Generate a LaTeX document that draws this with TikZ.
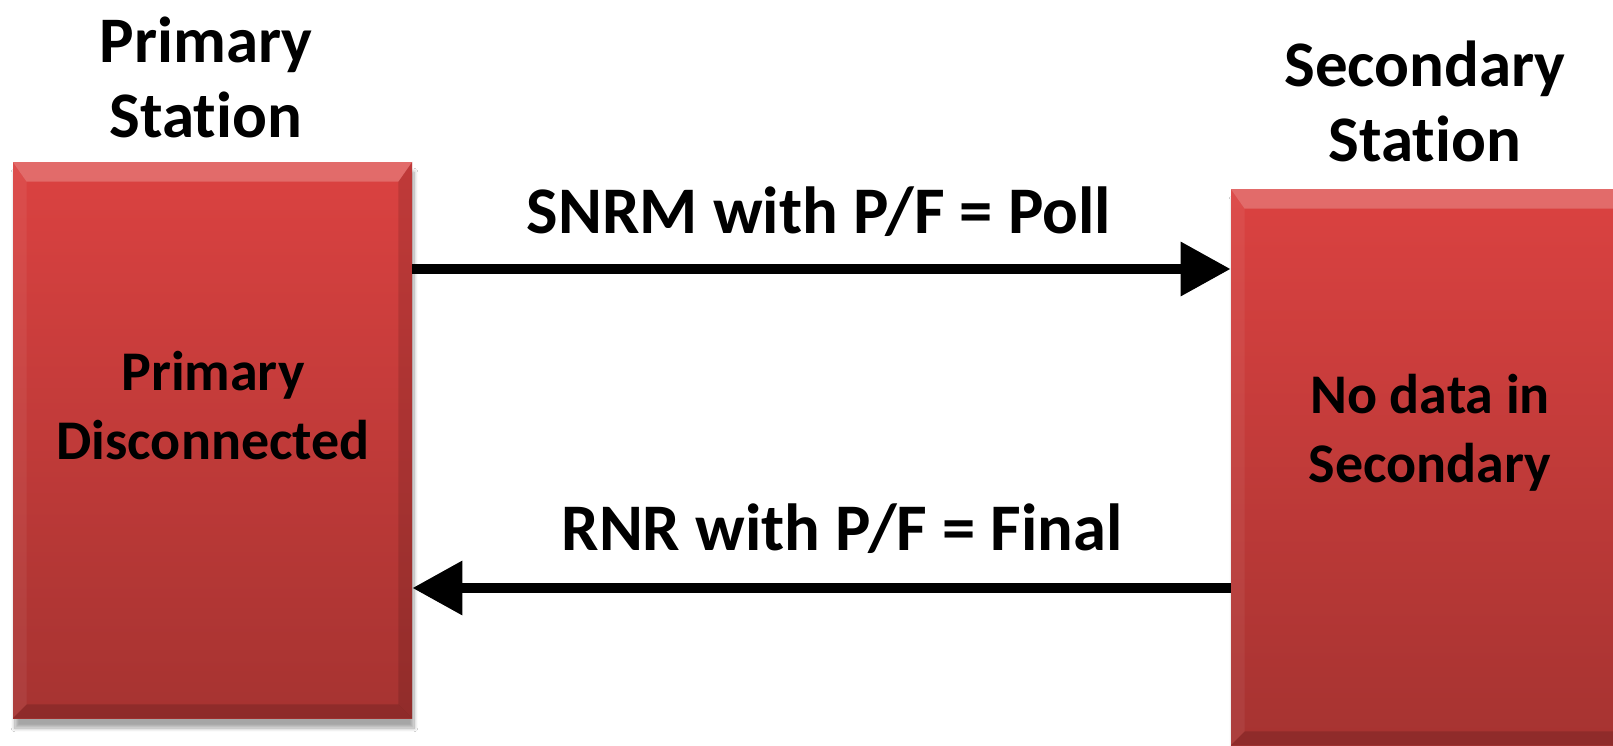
\documentclass[tikz,border=0pt]{standalone}
\usepackage{fontspec}
\setmainfont{Carlito}[Ligatures={NoCommon,NoRare}]
\usetikzlibrary{arrows.meta,shadows.blur}
\definecolor{boxtop}{RGB}{219,66,65}
\definecolor{boxbot}{RGB}{166,51,49}
\begin{document}
\begin{tikzpicture}[x=0.5pt,y=-0.5pt,
  lbl/.style={font=\bfseries\fontsize{32.5}{37.5}\selectfont, align=center, text=black, inner sep=0pt},
  inlbl/.style={font=\bfseries\fontsize{28}{34.5}\selectfont, align=center, text=black, inner sep=0pt},
  arrlbl/.style={font=\bfseries\fontsize{33.3}{40}\selectfont, align=center, text=black, inner sep=0pt},
  station/.style={rectangle, top color=boxtop, bottom color=boxbot, draw=none, inner sep=0pt,
    blur shadow={shadow xshift=1pt, shadow yshift=-5pt, shadow blur steps=10, shadow opacity=35}},
  arr/.style={line width=5pt, -{Triangle[length=25pt,width=26pt]}}]
\clip (0,0) rectangle (1613,745);
\fill[white] (0,0) rectangle (1613,745);
% boxes
\node[station, minimum width=199.5pt, minimum height=278pt] (L) at (212.5,440) {};
\node[station, minimum width=199pt, minimum height=278pt] (R) at (1430,467) {};
% bevels
\foreach \b in {L,R}{
  \fill[white,opacity=0.22] (\b.north west) -- (\b.north east) -- ([xshift=-7pt,yshift=-10pt]\b.north east) -- ([xshift=7pt,yshift=-10pt]\b.north west) -- cycle;
  \fill[white,opacity=0.06] (\b.north west) -- ([xshift=7pt,yshift=-10pt]\b.north west) -- ([xshift=7pt,yshift=7pt]\b.south west) -- (\b.south west) -- cycle;
  \fill[black,opacity=0.12] (\b.north east) -- ([xshift=-7pt,yshift=-10pt]\b.north east) -- ([xshift=-7pt,yshift=7pt]\b.south east) -- (\b.south east) -- cycle;
  \fill[black,opacity=0.14] (\b.south west) -- ([xshift=7pt,yshift=7pt]\b.south west) -- ([xshift=-7pt,yshift=7pt]\b.south east) -- (\b.south east) -- cycle;
}
% texts
\node[inlbl] (Lt) at (213,406) {Primary\\Disconnected};
\node[inlbl] (Rt) at (1430,433) {No data in\\Secondary};
\node[lbl] (Lh) at (206,77) {Primary\\Station};
\node[lbl] (Rh) at (1425,101) {Secondary\\Station};
% arrows
\coordinate (a1) at (0,269);
\coordinate (a2) at (0,588);
\draw[arr] (a1 -| L.east) -- (a1 -| R.west);
\draw[arr] (a2 -| R.west) -- (a2 -| L.east);
\node[arrlbl] (m1) at (819,212) {SNRM with P/F = Poll};
\node[arrlbl] (m2) at (842,529) {RNR with P/F = Final};
\end{tikzpicture}
\end{document}
